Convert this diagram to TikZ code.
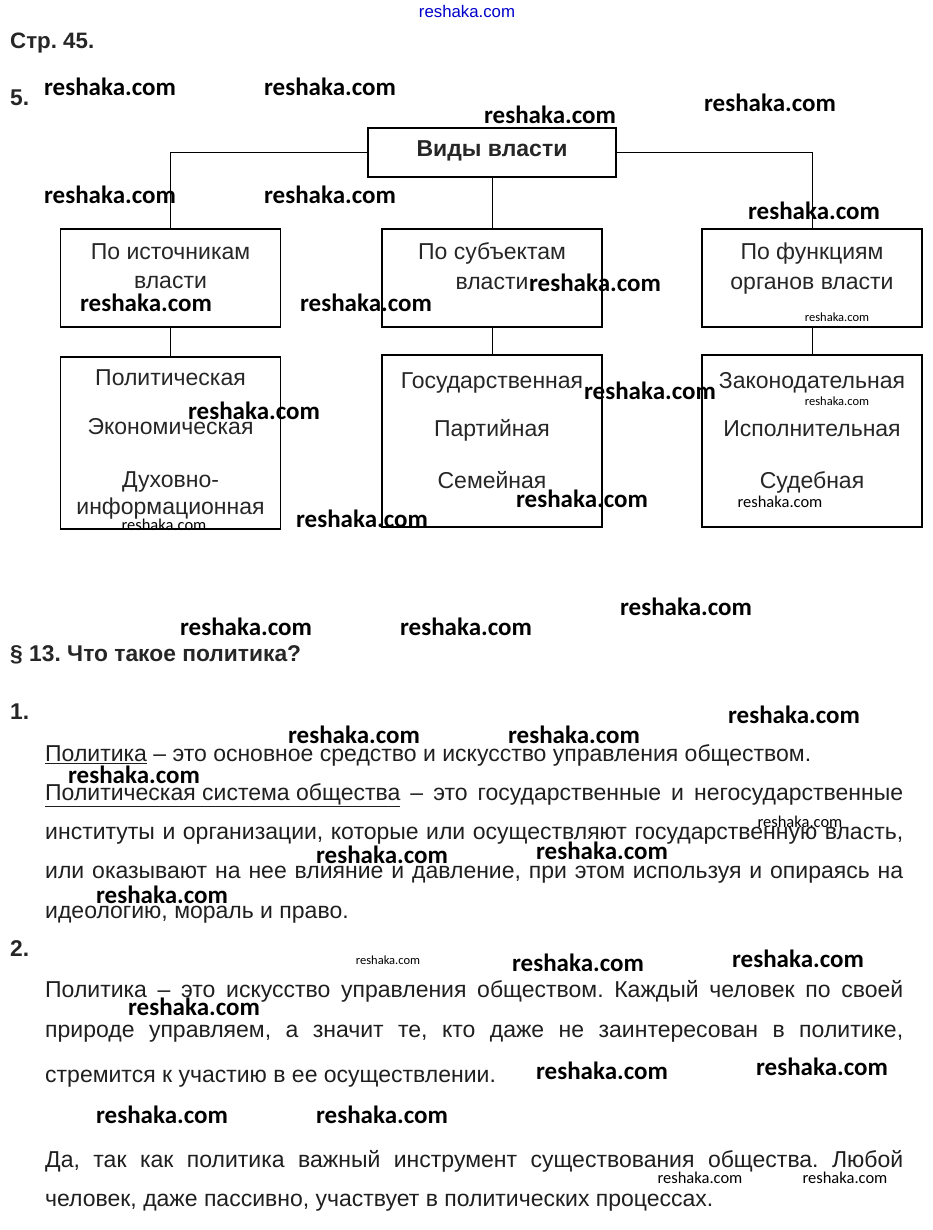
\documentclass[tikz,border=0pt]{standalone}
\usepackage{fontspec}
\setmainfont{Liberation Sans}
\newfontfamily\wmfont{Carlito}
\usetikzlibrary{positioning}
\frenchspacing

\tikzset{
  vbox/.style={draw, line width=1.6pt, minimum width=220pt, inner sep=0pt},
  link/.style={line width=0.9pt},
  boxtext/.style={anchor=mid, inner sep=0pt, yshift=-4pt, font=\fontsize{23}{27}\selectfont, text=black!85},
  body/.style={anchor=mid west, inner sep=0pt, yshift=-3pt, font=\fontsize{23}{27}\selectfont, text=black!88},
  head/.style={anchor=mid west, inner sep=0pt, yshift=-3pt, font=\bfseries\fontsize{22.8}{27}\selectfont, text=black!85},
  wmbig/.style={anchor=mid, inner sep=0pt, yshift=-4pt, font=\wmfont\bfseries\fontsize{25}{30}\selectfont},
  wmmid/.style={anchor=mid, inner sep=0pt, yshift=-4pt, font=\wmfont\fontsize{16.5}{20}\selectfont},
  wmsmall/.style={anchor=mid, inner sep=0pt, yshift=-3pt, font=\wmfont\fontsize{12.5}{15}\selectfont},
}

\begin{document}
\begin{tikzpicture}[x=1pt, y=-1pt]
  \fill[white] (0,0) rectangle (932,1230);
  \useasboundingbox (0,0) rectangle (932,1230);

  % headings
  \node[head, font=\bfseries\fontsize{22.3}{27}\selectfont] (page) at (10,43) {Стр. 45.};
  \node[head] (n5) at (10,100) {5.};

  % tree of the kinds of power
  \node[vbox, minimum width=248pt, minimum height=49pt] (root) at (492,152.5) {};
  \node[anchor=mid, inner sep=0pt, yshift=-4pt, font=\bfseries\fontsize{23}{27}\selectfont, text=black!85]
    (roott) at (492,150) {Виды власти};

  \node[vbox, minimum height=98pt] (src) at (170.5,278) {};
  \node[vbox, minimum height=98pt] (subj) at (492,278) {};
  \node[vbox, minimum height=98pt] (func) at (812,278) {};
  \node[vbox, minimum height=172pt] (srcl) at (170.5,443) {};
  \node[vbox, minimum height=172pt] (subjl) at (492,441) {};
  \node[vbox, minimum height=172pt] (funcl) at (812,441) {};

  \draw[link] (root.west) -| (src.north);
  \draw[link] (root.east) -| (func.north);
  \draw[link] (root.south) -- (subj.north);
  \draw[link] (src.south) -- (srcl.north);
  \draw[link] (subj.south) -- (subjl.north);
  \draw[link] (func.south) -- (funcl.north);

  \node[boxtext] (src1) at (170.5,253) {По источникам};
  \node[boxtext] (src2) at (170.5,282) {власти};
  \node[boxtext] (subj1) at (492,253) {По субъектам};
  \node[boxtext] (subj2) at (492,283) {власти};
  \node[boxtext] (func1) at (812,253) {По функциям};
  \node[boxtext] (func2) at (812,283) {органов власти};

  \node[boxtext] (srcA) at (170.5,379) {Политическая};
  \node[boxtext] (srcB) at (170.5,428) {Экономическая};
  \node[boxtext] (srcC) at (170.5,481) {Духовно-};
  \node[boxtext] (srcD) at (170.5,508) {информационная};
  \node[boxtext] (subjA) at (492,382) {Государственная};
  \node[boxtext] (subjB) at (492,430) {Партийная};
  \node[boxtext] (subjC) at (492,482) {Семейная};
  \node[boxtext] (funcA) at (812,382) {Законодательная};
  \node[boxtext] (funcB) at (812,430) {Исполнительная};
  \node[boxtext] (funcC) at (812,482) {Судебная};

  % section 13
  \node[head] (sec) at (10,656) {§ 13. Что такое политика?};
  \node[head] (n1) at (10,714) {1.};
  \node[body] (p1a) at (45,756)
    {\underline{Политика} – это основное средство и искусство управления обществом.};
  \node[body] (p1b) at (45,795) {\makebox[858pt][s]{\underline{Политическая система общества}
    – это государственные и негосударственные}};
  \node[body] (p1c) at (45,834) {\makebox[858pt][s]{институты и организации, которые
    или осуществляют государственную власть,}};
  \node[body] (p1d) at (45,873) {\makebox[858pt][s]{или оказывают на нее влияние и
    давление, при этом используя и опираясь на}};
  \node[body] (p1e) at (45,913) {идеологию, мораль и право.};

  \node[head] (n2) at (10,951) {2.};
  \node[body] (p2a) at (45,992) {\makebox[858pt][s]{Политика – это искусство управления
    обществом. Каждый человек по своей}};
  \node[body] (p2b) at (45,1032) {\makebox[858pt][s]{природе управляем, а значит те, кто
    даже не заинтересован в политике,}};
  \node[body] (p2c) at (45,1077) {стремится к участию в ее осуществлении.};
  \node[body] (p2d) at (45,1162) {\makebox[858pt][s]{Да, так как политика важный инструмент
    существования общества. Любой}};
  \node[body] (p2e) at (45,1201) {человек, даже пассивно, участвует в политических процессах.};

  % watermarks
  \node[anchor=mid, inner sep=0pt, yshift=-3pt, font=\fontsize{16.8}{20}\selectfont, text=blue!80!black]
    (wmtop) at (467,12) {reshaka.com};
  \foreach \px/\py/\st [count=\i] in {
      110/89/wmbig, 330/89/wmbig, 550/117/wmbig, 770/105/wmbig,
      110/197/wmbig, 330/197/wmbig, 814/213/wmbig, 146/305/wmbig,
      366/305/wmbig, 595/285/wmbig, 837/316/wmsmall, 254/413/wmbig,
      650/393/wmbig, 837/400/wmsmall, 164/524/wmmid, 362/521/wmbig,
      582/501/wmbig, 780/501/wmmid, 686/609/wmbig, 246/629/wmbig,
      466/629/wmbig, 794/717/wmbig, 354/737/wmbig, 574/737/wmbig,
      134/777/wmbig, 800/821/wmmid, 382/857/wmbig, 602/853/wmbig,
      162/897/wmbig, 388/959/wmsmall, 578/965/wmbig, 798/961/wmbig,
      194/1009/wmbig, 602/1073/wmbig, 822/1069/wmbig, 162/1117/wmbig,
      382/1117/wmbig, 700/1177/wmmid, 845/1177/wmmid}
    \node[\st] (wm\i) at (\px,\py) {reshaka.com};
\end{tikzpicture}
\end{document}
